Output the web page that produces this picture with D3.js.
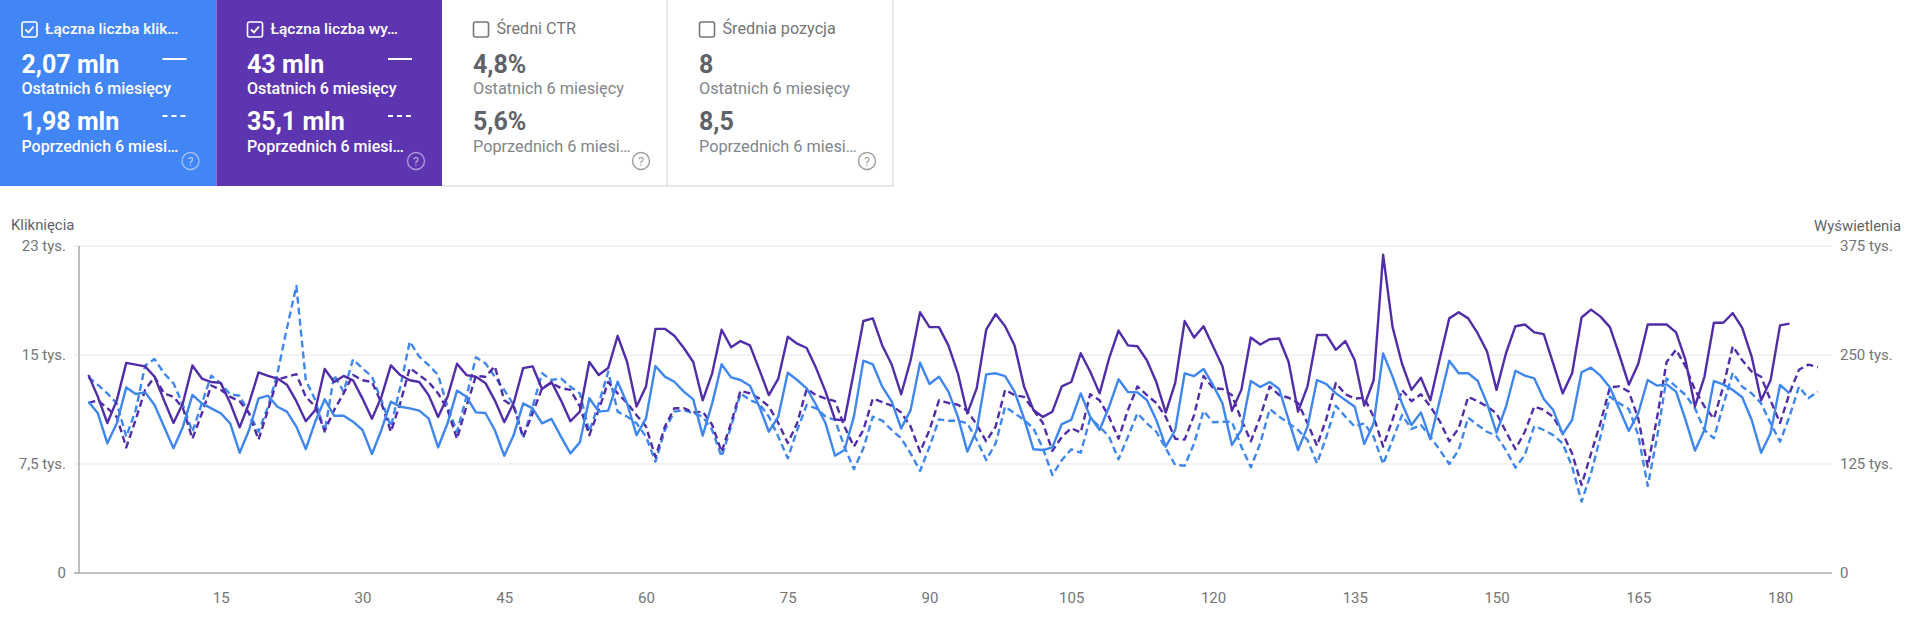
<!DOCTYPE html>
<html>
<head>
<meta charset="utf-8">
<script src="https://d3js.org/d3.v7.min.js"></script>
<style>
  html, body { margin: 0; padding: 0; background: #f1f4fb; overflow: hidden; }
  text { font-family: Roboto, sans-serif; }
</style>
</head>
<body>
<div id="chart"></div>
<script>
// clicks per day, last 6 months (left axis, thousands)
const clicksNow = [11.79,10.99,8.92,10.30,12.77,12.32,12.43,11.56,10.07,8.58,10.07,12.25,11.67,11.33,10.99,10.30,8.28,9.84,12.02,12.20,11.44,11.10,10.07,8.53,10.41,11.95,10.82,10.82,10.41,9.84,8.19,9.84,11.79,11.44,11.33,11.17,10.64,8.65,10.30,12.55,12.13,11.05,11.01,9.84,8.07,9.49,11.67,11.33,10.30,10.60,9.38,8.23,8.99,12.02,11.10,11.17,13.16,11.67,9.49,10.64,14.24,13.51,13.16,12.48,11.95,9.45,11.67,14.36,13.46,13.28,12.89,11.44,9.72,10.76,13.78,13.28,12.71,11.56,10.30,8.07,8.46,10.76,14.61,14.36,12.82,11.79,9.95,11.21,14.47,13.00,13.51,12.48,10.76,8.35,9.84,13.67,13.74,13.55,12.48,10.64,8.51,8.46,8.65,10.25,10.53,12.36,10.76,9.84,11.44,13.33,12.45,12.43,11.90,10.53,8.69,9.84,13.74,13.55,14.04,12.94,11.67,8.81,9.84,13.21,12.80,13.14,12.66,10.53,8.46,10.07,13.28,13.00,12.36,11.90,11.44,8.88,10.30,15.11,13.51,11.67,10.18,11.05,9.20,11.90,14.61,13.74,13.74,13.23,11.67,9.66,11.44,13.92,13.58,13.39,11.97,11.21,9.56,10.53,13.81,14.13,13.58,12.77,11.28,9.77,10.99,13.28,12.89,12.98,12.48,10.53,8.42,9.84,13.21,12.98,12.59,12.09,10.53,8.28,9.61,12.94,12.36];

// clicks per day, previous 6 months
const clicksPrev = [13.46,12.94,12.36,11.67,9.38,11.21,14.27,14.72,13.74,13.05,11.56,9.72,11.67,13.58,13.05,12.29,12.20,10.99,9.72,11.44,13.74,16.84,19.75,13.28,11.90,9.72,13.62,12.48,14.70,14.08,13.51,11.90,10.07,12.82,15.92,14.89,14.31,13.62,11.44,9.72,12.13,14.84,14.43,13.51,12.59,11.56,9.27,11.44,13.74,13.28,13.39,12.82,12.36,9.72,11.67,13.85,11.10,10.76,10.30,9.38,7.66,9.84,11.10,11.21,10.99,10.76,9.84,8.00,10.07,12.36,11.90,11.63,10.76,9.38,7.89,9.84,11.56,11.33,10.76,10.53,8.69,7.13,8.58,10.76,10.48,9.84,9.27,8.23,7.02,8.69,10.57,10.48,10.48,10.30,9.15,7.77,8.92,11.44,10.99,10.53,9.95,8.58,6.74,7.77,8.51,8.28,10.64,10.07,9.38,7.82,9.38,10.99,10.30,9.72,8.58,7.43,7.38,8.92,11.15,10.37,10.41,10.41,8.69,7.27,8.92,11.28,10.76,10.30,9.84,9.15,7.54,9.38,11.51,10.76,10.07,10.30,9.38,7.50,9.15,10.87,9.91,10.18,9.38,8.46,7.50,8.46,10.69,10.18,9.72,9.43,8.46,7.25,8.12,10.11,9.84,9.49,8.92,7.32,4.91,6.86,9.38,12.13,11.67,11.28,9.49,5.98,9.38,13.39,12.82,12.25,11.33,9.84,9.27,11.56,13.78,12.82,12.36,11.67,10.30,9.04,10.76,12.82,12.02,12.48];

// impressions per day, last 6 months (right axis, thousands)
const viewsNow = [227,202,172,198,241,239,237,225,198,172,195,238,223,219,218,195,167,195,230,226,223,216,197,174,187,234,219,226,221,200,177,202,238,227,221,219,204,179,202,240,227,225,218,198,173,195,235,237,211,219,198,174,185,242,227,235,272,242,191,214,280,280,272,258,242,198,229,279,259,266,261,233,204,223,271,263,258,235,208,176,175,231,289,292,261,239,205,244,299,282,282,261,229,183,212,279,297,283,261,214,187,179,185,214,219,252,231,206,246,278,261,260,244,219,184,218,289,270,283,260,237,186,210,270,262,268,269,242,185,214,273,273,256,266,244,192,221,365,282,240,210,224,198,246,292,299,292,275,254,210,252,283,285,276,274,240,206,229,293,302,294,282,250,216,240,285,285,285,276,244,191,225,287,287,298,281,248,198,221,284,286];

// impressions per day, previous 6 months
const viewsPrev = [195,198,189,179,144,176,210,225,206,202,189,154,183,215,210,202,197,183,153,187,222,225,228,202,191,163,187,206,227,221,219,195,162,195,235,227,219,206,187,154,191,226,225,237,198,191,156,183,212,218,212,210,191,158,187,219,206,195,181,168,133,168,189,189,184,185,170,139,172,209,206,200,191,172,149,172,211,204,200,197,168,145,164,200,196,192,184,168,139,164,198,195,193,186,170,151,168,210,204,202,187,172,140,156,166,161,205,198,179,154,187,214,204,195,179,154,153,181,226,212,211,204,176,151,179,214,204,201,195,172,146,177,218,205,200,201,179,145,176,210,197,205,191,174,151,166,202,197,191,183,162,142,162,191,187,179,160,137,101,137,172,213,214,208,177,122,179,242,256,237,210,191,177,214,260,244,231,225,198,172,206,233,239,236];

const xTicks = [15,30,45,60,75,90,105,120,135,150,165,180];
const clickTicks = [0,7.5,15,22.5];
const clickLabels = ["0","7,5 tys.","15 tys.","23 tys."];
const viewTicks = [0,125,250,375];
const viewLabels = ["0","125 tys.","250 tys.","375 tys."];

// summary cards above the chart
const cardTitles = ["Łączna liczba klik…","Łączna liczba wy…","Średni CTR","Średnia pozycja"];
const cardNow = ["2,07 mln","43 mln","4,8%","8"];
const cardPrev = ["1,98 mln","35,1 mln","5,6%","8,5"];
const cardSelected = [true,true,false,false];
const cardFills = ["#4285f4","#5e35b1","#ffffff","#ffffff"];
const nowLabel = "Ostatnich 6 miesięcy";
const prevLabel = "Poprzednich 6 miesi…";

const width = 1920, height = 638;
const blue = "#3f87ec", purple = "#512da8";

const svg = d3.select("#chart").append("svg")
  .attr("width", width)
  .attr("height", height)
  .style("display", "block");

// page background has rounded lower corners
svg.append("rect")
  .attr("x", -40).attr("y", -40)
  .attr("width", width + 80).attr("height", height + 40)
  .attr("rx", 34)
  .attr("fill", "#ffffff");

// cards
const cardEdges = [0, 216.5, 442, 667, 893];
const textOffsets = [21.5, 30.5, 31, 32];

cardTitles.forEach((title, i) => {
  const x0 = cardEdges[i];
  const x1 = cardEdges[i + 1];
  const tx = x0 + textOffsets[i];
  const on = cardSelected[i];
  const g = svg.append("g").attr("class", "card");

  g.append("rect")
    .attr("x", x0).attr("y", 0)
    .attr("width", x1 - x0).attr("height", 186)
    .attr("fill", cardFills[i]);

  // checkbox
  g.append("rect")
    .attr("x", tx + 0.5).attr("y", 22)
    .attr("width", 15).attr("height", 15)
    .attr("rx", 2)
    .attr("fill", "none")
    .attr("stroke", on ? "#ffffff" : "#757575")
    .attr("stroke-width", 1.6);
  if (on) {
    g.append("path")
      .attr("d", `M${tx + 4},${29.5}l3,3l5,-6`)
      .attr("fill", "none")
      .attr("stroke", "#ffffff")
      .attr("stroke-width", 1.8);
  }

  const main = on ? "#ffffff" : "#5f6368";
  const sub = on ? "#ffffff" : "#80868b";
  const smallSize = on ? 16 : 16.3;
  const smallWeight = on ? 500 : 400;

  g.append("text").attr("x", tx + 23.5).attr("y", 34)
    .attr("font-size", on ? 15.5 : 16.2).attr("font-weight", smallWeight)
    .attr("fill", on ? "#ffffff" : "#757575").text(title);
  g.append("text").attr("x", tx).attr("y", 73)
    .attr("font-size", 25).attr("font-weight", 700)
    .attr("fill", main).text(cardNow[i]);
  g.append("text").attr("x", tx).attr("y", 94)
    .attr("font-size", smallSize).attr("font-weight", smallWeight)
    .attr("fill", sub).text(nowLabel);
  g.append("text").attr("x", tx).attr("y", 130)
    .attr("font-size", 25).attr("font-weight", 700)
    .attr("fill", main).text(cardPrev[i]);
  g.append("text").attr("x", tx).attr("y", 152)
    .attr("font-size", smallSize).attr("font-weight", smallWeight)
    .attr("fill", sub).text(prevLabel);

  // solid and dashed legend keys on the selected cards
  if (on) {
    g.append("line")
      .attr("x1", tx + 141).attr("x2", tx + 165)
      .attr("y1", 59).attr("y2", 59)
      .attr("stroke", "#ffffff").attr("stroke-width", 2);
    g.append("line")
      .attr("x1", tx + 141).attr("x2", tx + 165)
      .attr("y1", 116).attr("y2", 116)
      .attr("stroke", "#ffffff").attr("stroke-width", 2)
      .attr("stroke-dasharray", "5 4");
  }

  // help icon
  const hx = x1 - 26;
  g.append("circle")
    .attr("cx", hx).attr("cy", 161).attr("r", 8.5)
    .attr("fill", "none")
    .attr("stroke", on ? "rgba(255,255,255,0.5)" : "#9e9e9e")
    .attr("stroke-width", 1.4);
  g.append("text").attr("x", hx).attr("y", 165.5)
    .attr("text-anchor", "middle")
    .attr("font-size", 12.5)
    .attr("fill", on ? "rgba(255,255,255,0.6)" : "#9e9e9e").text("?");
});

// card borders
svg.append("path")
  .attr("d", "M667,0V186M893,0V186M442,186H893")
  .attr("fill", "none")
  .attr("stroke", "#e0e0e0")
  .attr("stroke-width", 1.5);

// scales
const xScale = d3.scaleLinear().domain([0, 185.5]).range([79, 1832]);
const yClicks = d3.scaleLinear().domain([0, 22.5]).range([573, 246]);
const yViews = d3.scaleLinear().domain([0, 375]).range([573, 246]);

// grid lines
svg.append("g")
  .selectAll("line")
  .data(viewTicks.slice(1))
  .join("line")
  .attr("x1", 74)
  .attr("x2", 1832)
  .attr("y1", d => yViews(d))
  .attr("y2", d => yViews(d))
  .attr("stroke", "#eeeeee")
  .attr("stroke-width", 1.5);

// axes
const leftAxis = d3.axisLeft(yClicks)
  .tickValues(clickTicks)
  .tickSize(0)
  .tickPadding(13)
  .tickFormat((d, i) => clickLabels[i]);
const rightAxis = d3.axisRight(yViews)
  .tickValues(viewTicks)
  .tickSize(0)
  .tickPadding(8)
  .tickFormat((d, i) => viewLabels[i]);
const bottomAxis = d3.axisBottom(xScale)
  .tickValues(xTicks)
  .tickSize(0)
  .tickPadding(19);

function styleAxis(g) {
  g.select(".domain").remove();
  g.selectAll("text")
    .attr("font-size", 15)
    .attr("font-family", "Roboto, sans-serif")
    .attr("fill", "#757575");
}

svg.append("g").attr("transform", "translate(79,0)").call(leftAxis).call(styleAxis);
svg.append("g").attr("transform", "translate(1832,0)").call(rightAxis).call(styleAxis);
svg.append("g").attr("transform", "translate(0,573)").call(bottomAxis).call(styleAxis);

// axis titles
svg.append("text").attr("x", 11).attr("y", 230)
  .attr("font-size", 14.9).attr("fill", "#5f6368").text("Kliknięcia");
svg.append("text").attr("x", 1901).attr("y", 231)
  .attr("text-anchor", "end")
  .attr("font-size", 14.9).attr("fill", "#5f6368").text("Wyświetlenia");

// axis lines
svg.append("line")
  .attr("x1", 79).attr("x2", 79)
  .attr("y1", 246).attr("y2", 573)
  .attr("stroke", "#aaaaaa").attr("stroke-width", 1.5);
svg.append("line")
  .attr("x1", 74).attr("x2", 1832)
  .attr("y1", 573).attr("y2", 573)
  .attr("stroke", "#aaaaaa").attr("stroke-width", 1.5);

// series
function drawSeries(values, yScale, color, dashed) {
  const line = d3.line()
    .x((d, i) => xScale(i + 1))
    .y(d => yScale(d));
  svg.append("path")
    .datum(values)
    .attr("d", line)
    .attr("fill", "none")
    .attr("stroke", color)
    .attr("stroke-width", 2.4)
    .attr("stroke-linejoin", "round")
    .attr("stroke-dasharray", dashed ? "7 4" : null);
}

drawSeries(clicksPrev, yClicks, blue, true);
drawSeries(viewsPrev, yViews, purple, true);
drawSeries(clicksNow, yClicks, blue, false);
drawSeries(viewsNow, yViews, purple, false);
</script>
</body>
</html>
